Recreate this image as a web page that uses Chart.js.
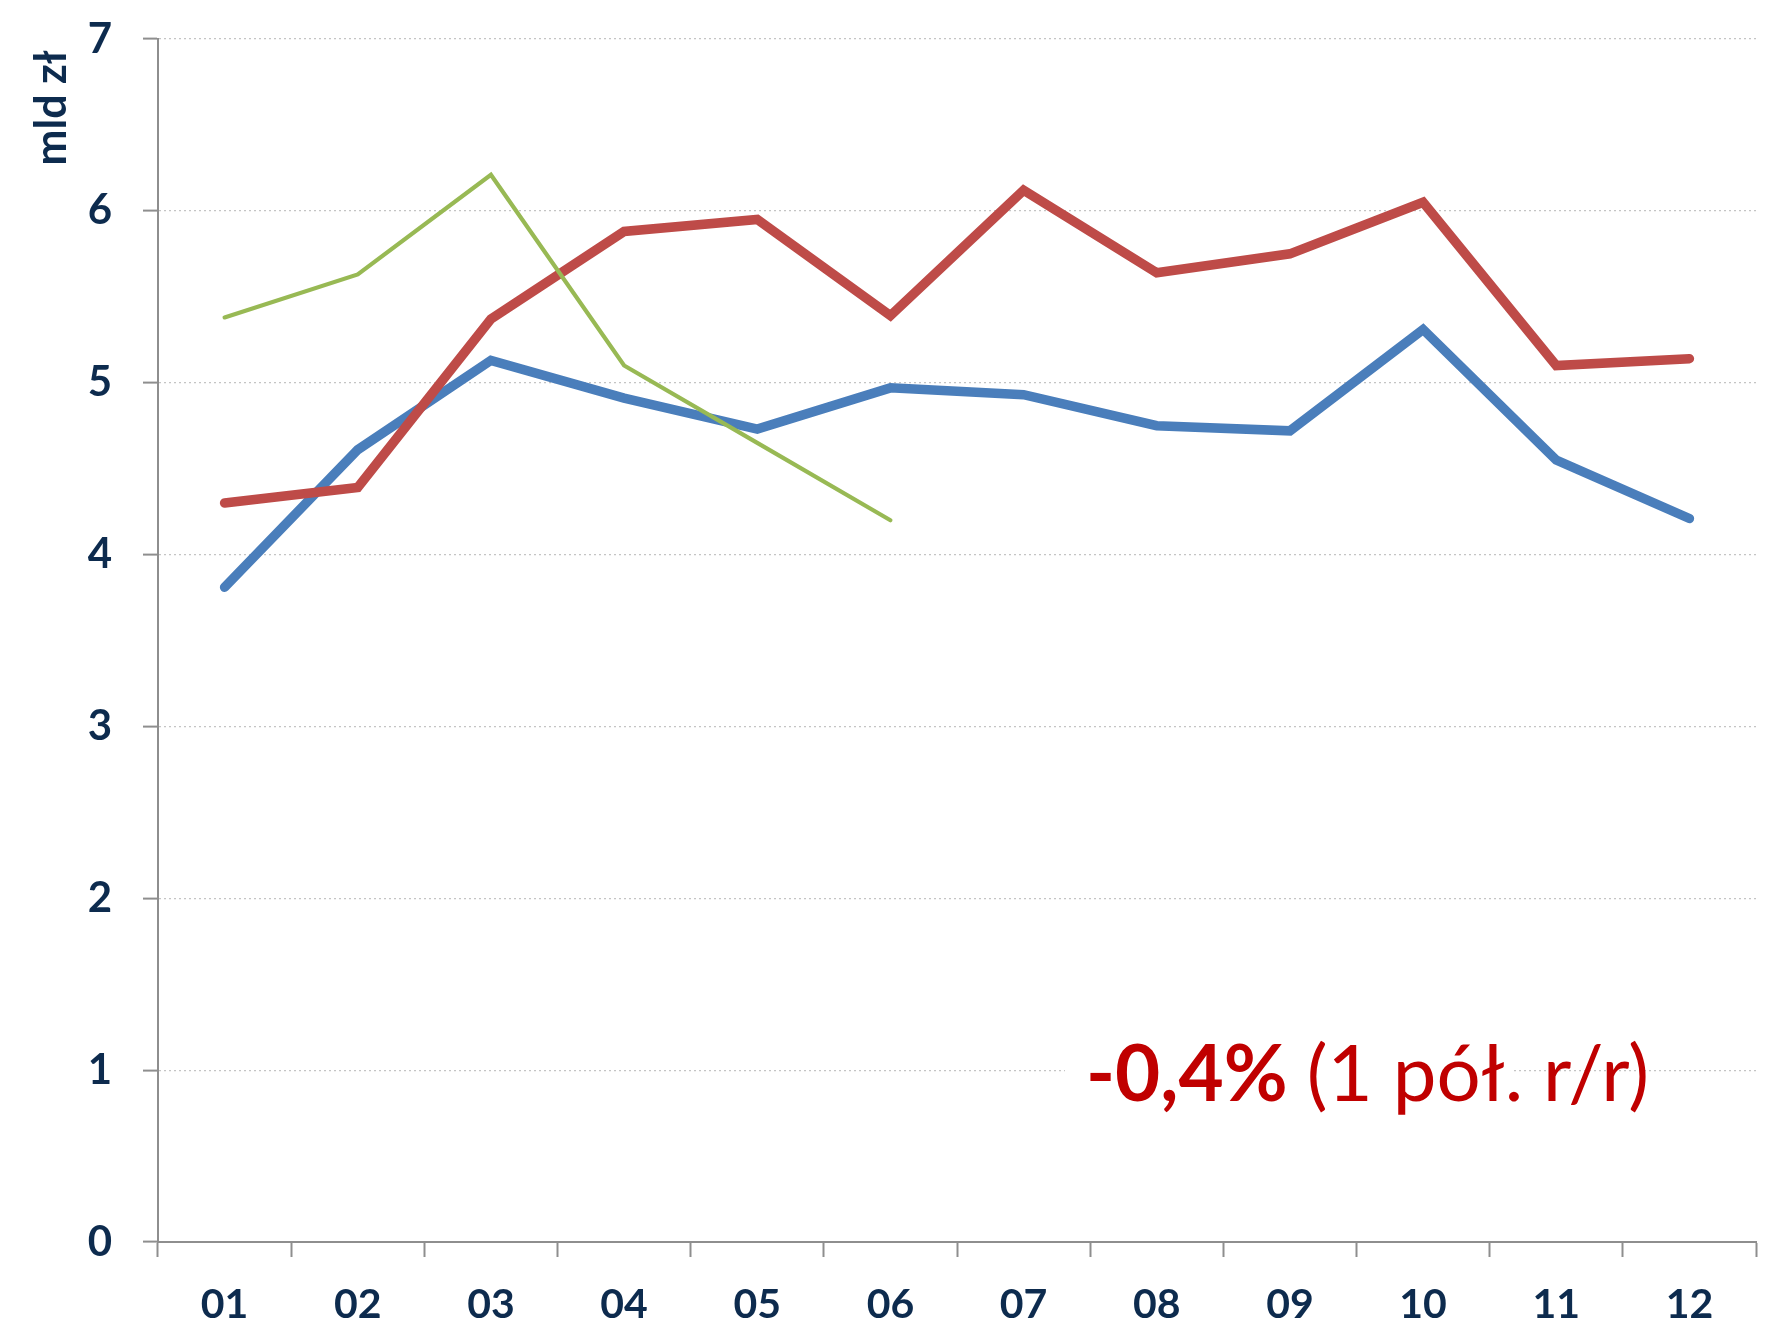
<!DOCTYPE html>
<html>
<head>
<meta charset="utf-8">
<script src="https://cdn.jsdelivr.net/npm/chart.js@4.4.1/dist/chart.umd.min.js"></script>
<style>
  html, body { margin: 0; padding: 0; background: #ffffff; }
  #wrap { width: 1771px; height: 1324px; }
</style>
</head>
<body>
<div id="wrap"><canvas id="c" width="1771" height="1324"></canvas></div>
<script>
const months = ['01','02','03','04','05','06','07','08','09','10','11','12'];
const seriesBlue  = [3.81, 4.61, 5.13, 4.91, 4.73, 4.97, 4.93, 4.75, 4.72, 5.31, 4.55, 4.21];
const seriesRed   = [4.30, 4.39, 5.37, 5.88, 5.95, 5.39, 6.12, 5.64, 5.75, 6.05, 5.10, 5.14];
const seriesGreen = [5.38, 5.63, 6.21, 5.10, 4.65, 4.20, null, null, null, null, null, null];
const yTicks = [0, 1, 2, 3, 4, 5, 6, 7];
const yTitle = 'mld zł';
const noteBold = '-0,4%';
const noteRegular = '(1 pół. r/r)';

const textColor = '#0d2b4e';
const axisColor = '#8e8e8e';

const overlayPlugin = {
  id: 'overlay',
  afterDraw(chart) {
    const ctx = chart.ctx;
    const y = chart.scales.y;
    ctx.save();
    // y-axis title
    ctx.fillStyle = textColor;
    ctx.font = 'bold 43px Lato';
    ctx.translate(52, 50);
    ctx.rotate(-Math.PI / 2);
    ctx.textAlign = 'right';
    ctx.textBaseline = 'middle';
    ctx.fillText(yTitle, 0, 0);
    ctx.restore();

    // annotation
    ctx.save();
    const baseY = y.getPixelForValue(1) + 31;
    ctx.fillStyle = '#ffffff';
    ctx.fillRect(1065, baseY - 82, 448, 102);
    ctx.fillStyle = '#c00000';
    ctx.textBaseline = 'alphabetic';
    ctx.textAlign = 'left';
    ctx.font = 'bold 78px Lato';
    let x = 1086;
    ctx.fillText(noteBold, x, baseY);
    x += ctx.measureText(noteBold + ' ').width;
    ctx.font = '78px Lato';
    ctx.fillText(noteRegular, x, baseY);
    ctx.restore();
  }
};

new Chart(document.getElementById('c'), {
  type: 'line',
  data: {
    labels: months,
    datasets: [
      { label: 'A', data: seriesBlue, borderColor: '#4a7ebb', borderWidth: 9.5, order: 3 },
      { label: 'B', data: seriesRed, borderColor: '#be4b48', borderWidth: 9.5, order: 2 },
      { label: 'C', data: seriesGreen, borderColor: '#98b954', borderWidth: 4.2, order: 1 }
    ]
  },
  options: {
    responsive: false,
    animation: false,
    devicePixelRatio: 1,
    layout: { padding: { top: 39, right: 15, left: 0, bottom: 0 } },
    elements: {
      point: { radius: 0, hoverRadius: 0 },
      line: { tension: 0, borderCapStyle: 'round', borderJoinStyle: 'miter', fill: false }
    },
    plugins: {
      legend: { display: false },
      tooltip: { enabled: false }
    },
    scales: {
      x: {
        type: 'category',
        offset: true,
        afterFit(scale) { scale.height = 82; scale.paddingLeft = 0; scale.paddingRight = 0; },
        grid: {
          offset: true,
          drawOnChartArea: false,
          drawTicks: true,
          tickLength: 15,
          tickColor: axisColor,
          tickWidth: 2
        },
        border: { display: true, color: axisColor, width: 2 },
        ticks: {
          color: textColor,
          font: { family: 'Lato', weight: 'bold', size: 41 },
          padding: 23,
          maxRotation: 0,
          autoSkip: false
        }
      },
      y: {
        min: 0,
        max: 7,
        afterFit(scale) { scale.width = 158; scale.paddingTop = 0; scale.paddingBottom = 0; },
        afterBuildTicks(scale) { scale.ticks = yTicks.map(v => ({ value: v })); },
        grid: {
          drawTicks: true,
          tickLength: 15,
          color: '#c4c4c4',
          lineWidth: 1.2,
          tickColor: axisColor,
          tickWidth: 2
        },
        border: { display: true, color: axisColor, width: 2, dash: [2, 3] },
        ticks: {
          color: textColor,
          font: { family: 'Lato', weight: 'bold', size: 42 },
          padding: 31
        }
      }
    }
  },
  plugins: [overlayPlugin]
});
</script>
</body>
</html>
